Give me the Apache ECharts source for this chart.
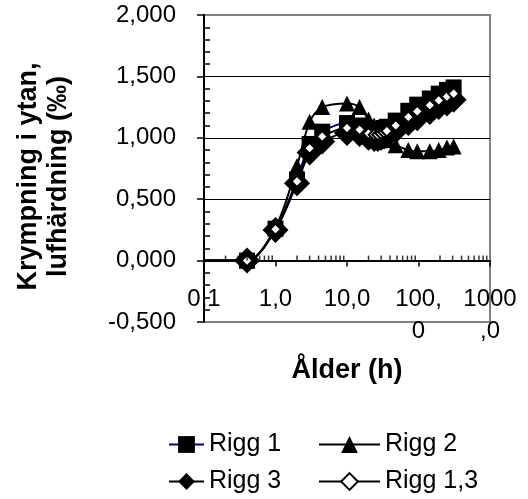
<!doctype html>
<html>
    <head>
        <meta charset="utf-8">
        <style>
            html, body { margin: 0; padding: 0; background: #fff; }
            #main { width: 528px; height: 499px; }
        </style>
    </head>
    <body>
        <div id="main"></div>
        <script src="https://cdn.jsdelivr.net/npm/echarts@6/dist/echarts.min.js"></script>
        <script>
            var chart = echarts.init(document.getElementById('main'));

            // Ålder (h); the first reading sits just left of the y axis
            var hours = [0.065, 0.4, 1, 2, 3, 4.5, 10, 15, 20, 24, 27, 30, 33, 36, 48, 72, 96, 144, 192, 250, 310];
            var rigg1 = [0, 0, 0.26, 0.66, 0.95, 1.05, 1.12, 1.10, 1.07, 1.06, 1.06, 1.07, 1.08, 1.09, 1.14, 1.22, 1.27, 1.32, 1.36, 1.39, 1.41];
            var rigg2 = [0, 0, 0.27, 0.77, 1.13, 1.25, 1.28, 1.25, 1.15, 1.10, 1.06, 1.03, 1.00, 0.98, 0.94, 0.90, 0.89, 0.89, 0.90, 0.92, 0.93];
            var rigg3 = [0, 0, 0.25, 0.63, 0.88, 0.97, 1.04, 1.03, 1.00, 0.99, 0.99, 1.00, 1.01, 1.02, 1.06, 1.12, 1.16, 1.21, 1.25, 1.28, 1.31];
            var rigg13 = [0, 0, 0.255, 0.645, 0.915, 1.01, 1.08, 1.065, 1.035, 1.025, 1.025, 1.035, 1.045, 1.055, 1.10, 1.17, 1.215, 1.265, 1.305, 1.335, 1.36];

            var xTickLabels = ['0,1', '1,0', '10,0', '100,\n0', '1000\n,0'];
            var xMinorTicks = [0.2, 0.3, 0.4, 0.5, 0.6, 0.7, 0.8, 0.9,
                2, 3, 4, 5, 6, 7, 8, 9,
                20, 30, 40, 50, 60, 70, 80, 90,
                200, 300, 400, 500, 600, 700, 800, 900];

            var font = 'Liberation Sans, Arial, sans-serif';

            // plot box
            var gridTop = 15, gridBottom = 177, chartH = 499;
            var yMin = -0.5, yMax = 2.0;
            var plotH = chartH - gridTop - gridBottom;
            // the x axis crosses at y = 0
            var xAxisOffset = -plotH * (0 - yMin) / (yMax - yMin);

            function pairs(ys) {
                return hours.map(function (h, i) {
                    // first point only carries the line in from the left
                    if (i === 0) return { value: [h, ys[i]], symbol: 'none' };
                    return [h, ys[i]];
                });
            }

            function legendAt(name, left, top, w) {
                return {
                    data: [name],
                    left: left,
                    top: top,
                    padding: 0,
                    itemWidth: w,
                    itemHeight: 21,
                    textStyle: { fontFamily: font, fontSize: 25, color: '#000' }
                };
            }

            chart.setOption({
                animation: false,
                textStyle: { fontFamily: font },
                grid: {
                    left: 204,
                    right: 38,
                    top: gridTop,
                    bottom: gridBottom,
                    show: true,
                    borderColor: '#808080',
                    borderWidth: 2,
                    containLabel: false,
                    outerBoundsMode: 'none'
                },
                legend: [
                    legendAt('Rigg 1', 168, 432, 35),
                    legendAt('Rigg 3', 168, 469, 35),
                    legendAt('Rigg 2', 318, 432, 61),
                    legendAt('Rigg 1,3', 318, 469, 61)
                ],
                xAxis: {
                    type: 'log',
                    logBase: 10,
                    min: 0.1,
                    max: 1000,
                    offset: xAxisOffset,
                    name: 'Ålder (h)',
                    nameLocation: 'middle',
                    nameGap: 96,
                    nameTextStyle: { fontFamily: font, fontSize: 27, fontWeight: 'bold', color: '#000' },
                    axisLine: { onZero: false, lineStyle: { color: '#000', width: 2 } },
                    axisTick: { show: true, inside: false, length: 6, lineStyle: { color: '#000', width: 1.5 } },
                    splitLine: { show: false },
                    axisLabel: {
                        margin: 23,
                        fontSize: 24,
                        lineHeight: 32,
                        color: '#000',
                        fontFamily: font,
                        formatter: function (v, i) { return xTickLabels[i]; }
                    }
                },
                yAxis: [{
                    type: 'value',
                    min: yMin,
                    max: yMax,
                    interval: 0.5,
                    name: 'Krympning i ytan,\nlufhärdning (‰)',
                    nameLocation: 'middle',
                    nameRotate: 90,
                    nameGap: 130,
                    nameTextStyle: {
                        fontFamily: font, fontSize: 27, fontWeight: 'bold', color: '#000',
                        lineHeight: 30, padding: [0, 16, 0, 0]
                    },
                    axisLine: { show: true, onZero: false, lineStyle: { color: '#000', width: 2 } },
                    axisTick: { show: true, inside: false, length: 7, lineStyle: { color: '#000', width: 1.5 } },
                    splitLine: { show: true, showMinLine: false, showMaxLine: false, lineStyle: { color: '#000', width: 1 } },
                    axisLabel: {
                        margin: 28,
                        fontSize: 24,
                        color: '#000',
                        fontFamily: font,
                        formatter: function (v) { return v.toFixed(3).replace('.', ','); }
                    }
                }, {
                    // minor ticks pointing into the plot
                    type: 'value',
                    position: 'left',
                    offset: 0,
                    min: yMin,
                    max: yMax,
                    interval: 0.5,
                    axisLine: { show: false, onZero: false },
                    axisTick: { show: false, inside: true },
                    axisLabel: { show: false },
                    splitLine: { show: false },
                    minorTick: { show: true, splitNumber: 5, length: 6, lineStyle: { color: '#000', width: 1.5 } }
                }],
                series: [{
                    name: 'Rigg 1',
                    type: 'line',
                    clip: false,
                    smooth: 0.3,
                    data: pairs(rigg1),
                    symbol: 'rect',
                    symbolSize: 16,
                    itemStyle: { color: '#000' },
                    lineStyle: { color: '#000080', width: 2 }
                }, {
                    name: 'Rigg 2',
                    type: 'line',
                    clip: false,
                    smooth: 0.3,
                    data: pairs(rigg2),
                    symbol: 'triangle',
                    symbolSize: 16,
                    itemStyle: { color: '#000' },
                    lineStyle: { color: '#000', width: 2 }
                }, {
                    name: 'Rigg 3',
                    type: 'line',
                    clip: false,
                    smooth: 0.3,
                    data: pairs(rigg3),
                    symbol: 'diamond',
                    symbolSize: 26,
                    itemStyle: { color: '#000' },
                    lineStyle: { color: '#000', width: 2 }
                }, {
                    name: 'Rigg 1,3',
                    type: 'line',
                    clip: false,
                    smooth: 0.3,
                    data: pairs(rigg13),
                    symbol: 'diamond',
                    symbolSize: 11,
                    itemStyle: { color: '#fff', borderColor: '#000', borderWidth: 2 },
                    lineStyle: { color: '#000', width: 2 }
                }, {
                    name: 'minor',
                    type: 'scatter',
                    silent: true,
                    symbol: 'rect',
                    symbolSize: [1.5, 5],
                    symbolOffset: [0, -2.5],
                    itemStyle: { color: '#000' },
                    data: xMinorTicks.map(function (v) { return [v, 0]; }),
                    z: 5
                }]
            });

            window.onresize = chart.resize;
        </script>
    </body>
</html>
